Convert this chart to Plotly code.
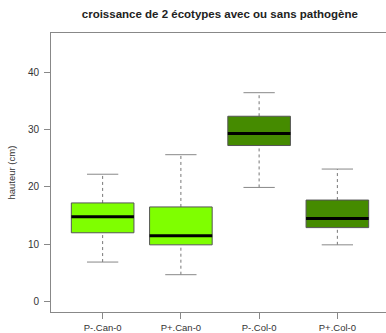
import plotly.graph_objects as go

# Hauteur (cm) par écotype et traitement pathogène : statistiques des boîtes
groupes = ["P-.Can-0", "P+.Can-0", "P-.Col-0", "P+.Col-0"]
moustache_bas = [6.9, 4.7, 19.9, 9.9]
q1 = [12.0, 9.9, 27.2, 12.9]
mediane = [14.8, 11.5, 29.3, 14.5]
q3 = [17.2, 16.5, 32.3, 17.7]
moustache_haut = [22.2, 25.6, 36.4, 23.1]
couleurs = ["#7FFF00", "#7FFF00", "#458B00", "#458B00"]
graduations_y = [0, 10, 20, 30, 40]

W, H = 386, 333
ML, MR, MT, MB = 51, 0, 33, 21
demi_boite = 0.4
demi_cap = 0.2

fig = go.Figure()
for i, nom in enumerate(groupes):
    pos = i + 1
    whisk = dict(color="#777777", width=1, dash="3px,3px")
    cap = dict(color="#888888", width=1)
    fig.add_trace(go.Scatter(x=[pos, pos], y=[moustache_bas[i], q1[i]], mode="lines",
                             line=whisk, hoverinfo="skip"))
    fig.add_trace(go.Scatter(x=[pos, pos], y=[q3[i], moustache_haut[i]], mode="lines",
                             line=whisk, hoverinfo="skip"))
    for v in (moustache_bas[i], moustache_haut[i]):
        fig.add_trace(go.Scatter(x=[pos - demi_cap, pos + demi_cap], y=[v, v], mode="lines",
                                 line=cap, hoverinfo="skip"))
    fig.add_trace(go.Scatter(
        x=[pos - demi_boite, pos + demi_boite, pos + demi_boite, pos - demi_boite, pos - demi_boite],
        y=[q1[i], q1[i], q3[i], q3[i], q1[i]],
        mode="lines", fill="toself", fillcolor=couleurs[i],
        line=dict(color="#555555", width=1), name=nom))
    fig.add_trace(go.Scatter(x=[pos - demi_boite, pos + demi_boite], y=[mediane[i], mediane[i]],
                             mode="lines", line=dict(color="black", width=3), hoverinfo="skip"))

# étendue de l'axe x : 0.34 -> 4.66 sur 338 px, dont 335 px visibles
x0, x1 = 0.34, 4.66
x_vis = x0 + (x1 - x0) * (W - ML - MR) / 338.0

fig.update_layout(
    width=W, height=H,
    margin=dict(l=ML, r=MR, t=MT, b=MB),
    paper_bgcolor="white", plot_bgcolor="white",
    showlegend=False,
    font=dict(family="Liberation Sans, Arial, sans-serif", color="#333333", size=10),
    title=dict(text="<b>croissance de 2 écotypes avec ou sans pathogène</b>",
               font=dict(size=11.5, color="#222222"),
               xref="paper", x=0.504, xanchor="center",
               yref="container", y=1 - 14 / H, yanchor="middle"),
    xaxis=dict(range=[x0, x_vis], tickvals=[1, 2, 3, 4], ticktext=groupes,
               showgrid=False, zeroline=False, showline=True, mirror=True,
               linecolor="#888888", linewidth=1, ticks="outside", ticklen=6,
               tickcolor="#888888", tickfont=dict(size=9.5), automargin=False,
               ticklabelstandoff=1),
    yaxis=dict(range=[-1.8, 46.8], tickvals=graduations_y,
               showgrid=False, zeroline=False, showline=True, mirror=False,
               linecolor="#888888", linewidth=1, ticks="outside", ticklen=6,
               tickcolor="#888888", tickfont=dict(size=10), automargin=False,
               ticklabelstandoff=3),
    annotations=[dict(text="hauteur (cm)", textangle=-90, xref="paper", yref="paper",
                      x=(11 - ML) / (W - ML - MR), y=0.5, xanchor="center", yanchor="middle",
                      showarrow=False, font=dict(size=9.5, color="#333333"))],
)

fig.write_html("out.html")
